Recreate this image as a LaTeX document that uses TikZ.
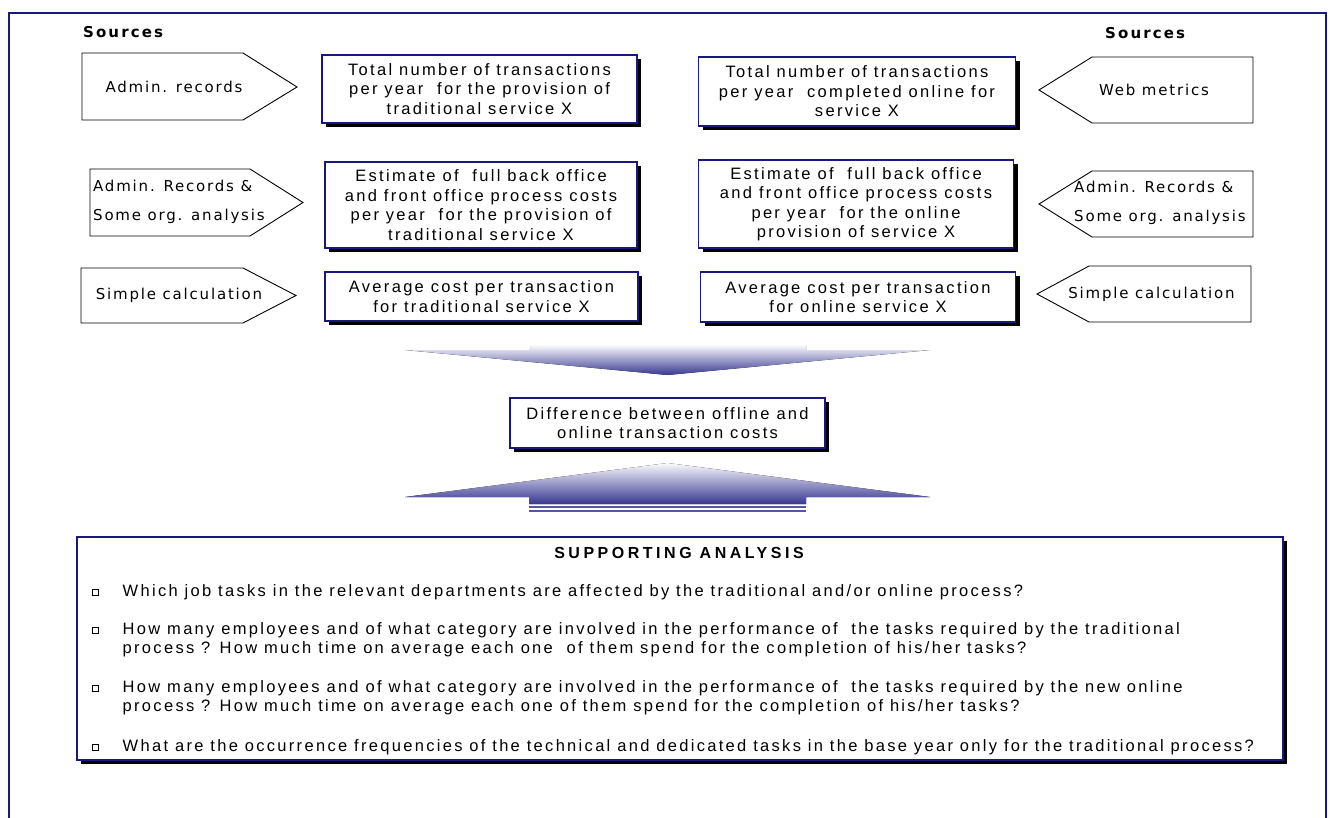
\documentclass[tikz,border=0pt]{standalone}
\usepackage{fontspec}
\usetikzlibrary{shadows}
\newfontfamily\boxfont[LetterSpace=14]{Liberation Sans}
\newfontfamily\titlefont[LetterSpace=22]{Liberation Sans}
\newfontfamily\srcfont[LetterSpace=12]{DejaVu Sans}
\newfontfamily\headfont[LetterSpace=14]{DejaVu Sans}
\definecolor{navy}{RGB}{25,25,125}
\definecolor{fundark}{RGB}{55,55,145}
\definecolor{funlight}{RGB}{250,250,253}
\begin{document}
\begin{tikzpicture}[x=1pt,y=-1pt,
  infobox/.style={draw=navy, line width=1.2pt, fill=white, align=center, inner sep=2pt,
    font=\boxfont\fontsize{16.5}{19.5}\selectfont,
    drop shadow={shadow xshift=4pt,shadow yshift=-4pt,fill=black,opacity=1}},
  srcshape/.style={draw=black, line width=0.9pt, fill=white},
  srctext/.style={font=\srcfont\fontsize{15}{29}\selectfont, inner sep=0pt, align=left},
  headtext/.style={font=\headfont\bfseries\fontsize{15}{18}\selectfont, inner sep=0pt, anchor=west},
  bulletsq/.style={draw=black, line width=0.7pt, fill=white, minimum size=6pt, inner sep=0pt,
    drop shadow={shadow xshift=1.2pt,shadow yshift=-1.2pt,fill=black,opacity=1}},
  bultext/.style={font=\boxfont\fontsize{16.5}{19}\selectfont, inner sep=0pt, anchor=west, align=left},
  funnel/.style={top color=funlight, bottom color=fundark, draw=none}
]
\useasboundingbox (0,0) rectangle (1330,817);
% outer frame
\draw[navy, line width=1.5pt] (9,840) -- (9,13) -- (1326,13) -- (1326,840);

% headings
\node[headtext] (srcL) at (83,32) {Sources};
\node[headtext] (srcR) at (1105,33) {Sources};

% left source shapes
\draw[srcshape] (82,53) -- (243,53) -- (297,87) -- (243,120) -- (82,120) -- cycle;
\node[srctext] (sl1) at (174,87) {Admin. records};
\draw[srcshape] (90,169) -- (250,169) -- (303,202.5) -- (250,236) -- (90,236) -- cycle;
\node[srctext, anchor=west] (sl2) at (93,202) {Admin. Records \&\\Some org. analysis};
\draw[srcshape] (81,268) -- (243,268) -- (296,295.5) -- (243,323) -- (81,323) -- cycle;
\node[srctext] (sl3) at (179,295.5) {Simple calculation};

% right source shapes
\draw[srcshape] (1039,90) -- (1092,57) -- (1253,57) -- (1253,123) -- (1092,123) -- cycle;
\node[srctext] (sr1) at (1154,90) {Web metrics};
\draw[srcshape] (1039,204) -- (1092,171) -- (1253,171) -- (1253,237) -- (1092,237) -- cycle;
\node[srctext, anchor=west] (sr2) at (1074,203) {Admin. Records \&\\Some org. analysis};
\draw[srcshape] (1037,294) -- (1089,266) -- (1251,266) -- (1251,322) -- (1089,322) -- cycle;
\node[srctext] (sr3) at (1151.5,294) {Simple calculation};

% info boxes
\node[infobox, minimum width=315pt, minimum height=68pt] (bl1) at (479.5,89)
  {Total number of transactions\\per year\ \ for the provision of\\traditional service X};
\node[infobox, minimum width=317pt, minimum height=69pt] (br1) at (857,91.5)
  {Total number of transactions\\per year\ \ completed online for\\service X};
\node[infobox, minimum width=312pt, minimum height=86pt] (bl2) at (481,205)
  {Estimate of\ \ full back office\\and front office process costs\\per year\ \ for the provision of\\traditional service X};
\node[infobox, minimum width=315pt, minimum height=88pt] (br2) at (856,204)
  {Estimate of\ \ full back office\\and front office process costs\\per year\ \ for the online\\provision of service X};
\node[infobox, minimum width=313pt, minimum height=49pt] (bl3) at (481.5,296.5)
  {Average cost per transaction\\for traditional service X};
\node[infobox, minimum width=315pt, minimum height=50pt] (br3) at (858,297)
  {Average cost per transaction\\for online service X};

% top funnel
\fill[funnel] (529,345) -- (806,345) -- (806,350) -- (930,350) -- (667.5,375) -- (405,350) -- (529,350) -- cycle;

% middle box
\node[infobox, minimum width=315pt, minimum height=50pt] (mid) at (667.5,423)
  {Difference between offline and\\online transaction costs};

% bottom funnel
\fill[funnel] (667.5,463) -- (930,497) -- (806,497) -- (806,504) -- (529,504) -- (529,497) -- (405,497) -- cycle;
\fill[fundark!85] (529,506) rectangle (806,508);
\fill[fundark!85] (529,509.5) rectangle (806,511.5);

% supporting analysis
\node[draw=navy, line width=1.2pt, fill=white, minimum width=1206pt, minimum height=223pt,
  drop shadow={shadow xshift=4pt,shadow yshift=-4pt,fill=black,opacity=1}] (sup) at (680,648.5) {};
\node[font=\titlefont\bfseries\fontsize{16}{18}\selectfont, inner sep=0pt] (suptitle) at (679,553) {SUPPORTING ANALYSIS};

\node[bulletsq] (q1) at (95,592) {};
\node[bultext] (t1) at (122.5,592) {Which job tasks in the relevant departments are affected by the traditional and/or online process?};
\node[bulletsq] (q2) at (95,630) {};
\node[bultext] (t2) at (122.5,639.5) {How many employees and of what category are involved in the performance of\ \ the tasks required by the traditional\\process ? How much time on average each one\ \ of them spend for the completion of his/her tasks?};
\node[bulletsq] (q3) at (95,688) {};
\node[bultext] (t3) at (122.5,697.5) {How many employees and of what category are involved in the performance of\ \ the tasks required by the new online\\process ? How much time on average each one of them spend for the completion of his/her tasks?};
\node[bulletsq] (q4) at (95,747) {};
\node[bultext] (t4) at (122.5,747) {What are the occurrence frequencies of the technical and dedicated tasks in the base year only for the traditional process?};
\end{tikzpicture}
\end{document}
